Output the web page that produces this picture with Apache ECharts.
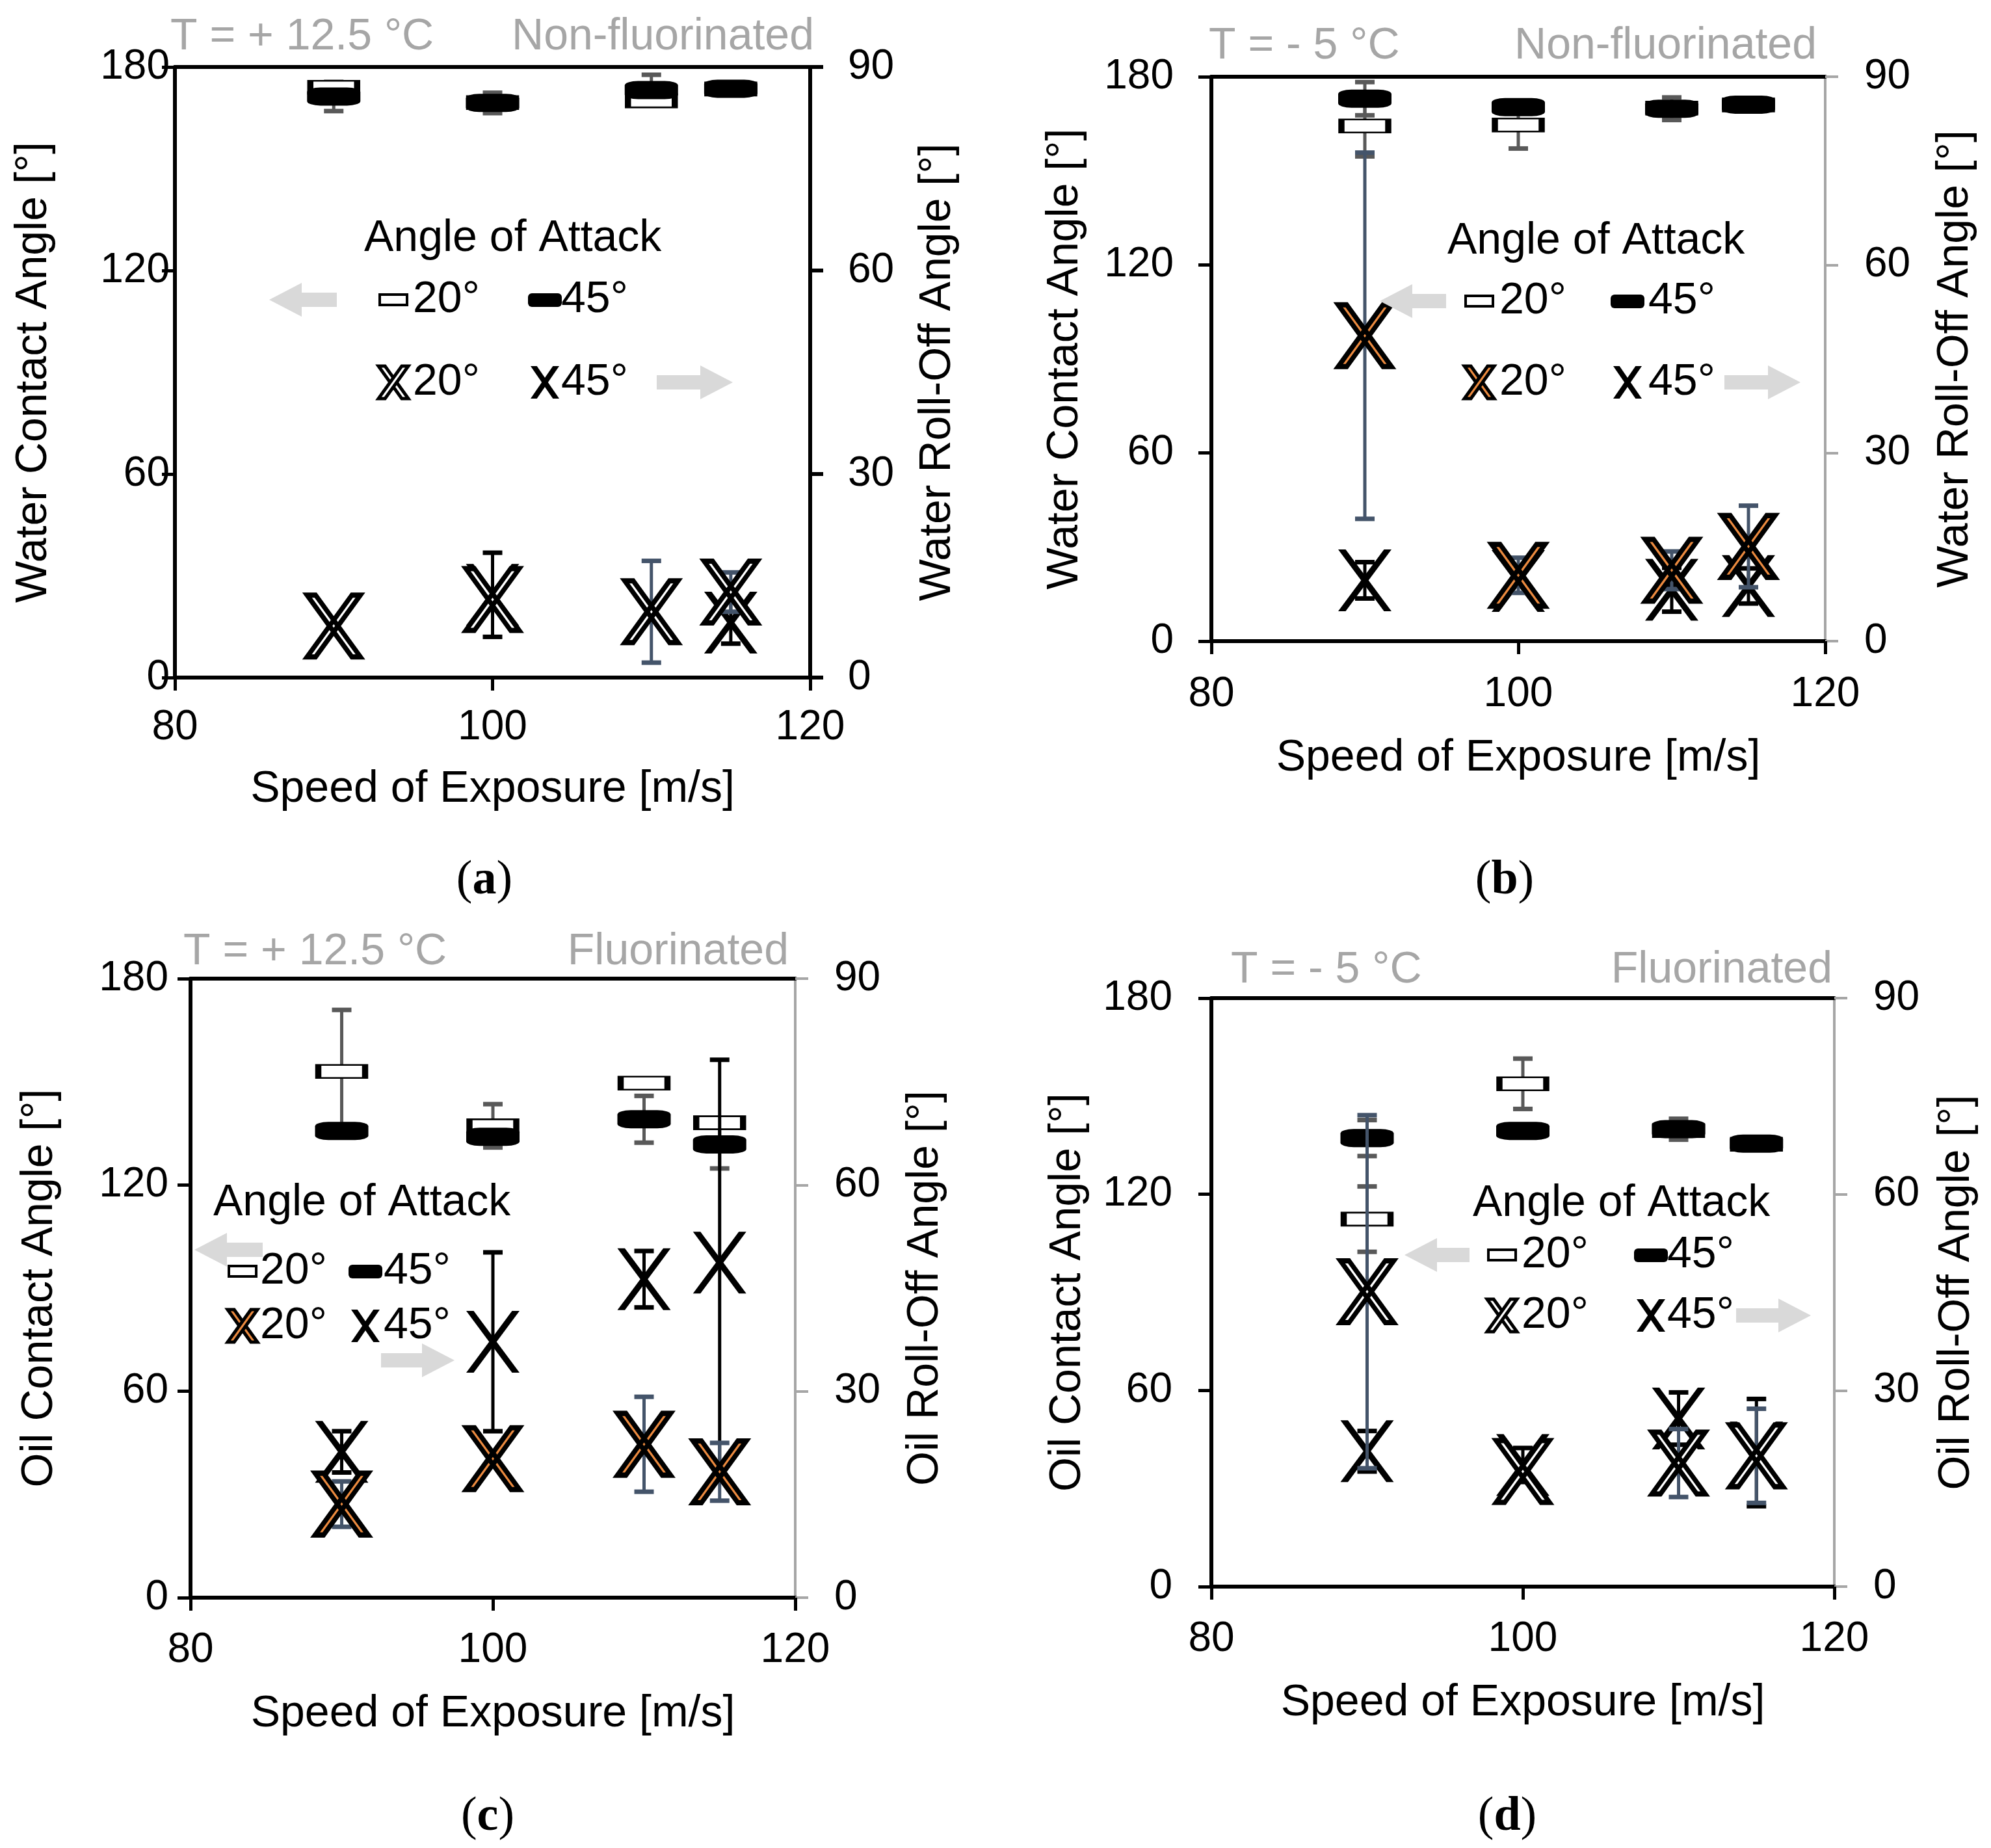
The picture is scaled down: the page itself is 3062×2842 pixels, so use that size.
<!DOCTYPE html>
<html>
<head>
<meta charset="utf-8">
<script src="https://cdn.jsdelivr.net/npm/echarts@6/dist/echarts.min.js"></script>
<style>
html,body{margin:0;padding:0;background:#fff;}
#chart{width:3062px;height:2842px;}
</style>
</head>
<body>
<div id="chart"></div>
<script>
// ---------------- DATA ----------------
const speeds = [90, 100, 110, 115];
const xTicks = [80, 100, 120];

// (a) Water, T = +12.5 °C, non-fluorinated
const aCA20 = [174.0, 169.5, 170.0, 173.5];
const aCA20Err = [0, 0, 0, 0];
const aCA45 = [171.3, 169.4, 173.2, 173.6];
const aCA45Err = [4.3, 3.0, 4.5, 0];
const aRO20 = [7.6, 11.5, 9.7, 12.6];
const aRO20Err = [0, 0, 7.5, 2.9];
const aRO45 = [7.6, 12.2, 9.4, 8.1];
const aRO45Err = [0, 6.2, 0, 3.1];

// (b) Water, T = -5 °C, non-fluorinated
const bCA20 = [164.3, 164.6, 170.0, 171.0];
const bCA20Err = [9.7, 7.5, 0, 0];
const bCA45 = [173.0, 170.3, 169.8, 171.1];
const bCA45Err = [5.3, 0, 3.6, 0];
const bRO20 = [48.7, 10.5, 11.3, 15.1];
const bRO20Err = [29.2, 2.8, 3.0, 6.5];
const bRO45 = [9.7, 9.6, 8.2, 8.8];
const bRO45Err = [2.9, 0, 3.5, 2.8];

// (c) Oil, T = +12.5 °C, fluorinated
const cCA20 = [153.0, 137.2, 149.6, 138.1];
const cCA20Err = [17.9, 6.3, 0, 0];
const cCA45 = [135.7, 134.0, 139.1, 131.8];
const cCA45Err = [0, 0, 6.8, 7.0];
const cRO20 = [13.6, 20.2, 22.3, 18.3];
const cRO20Err = [3.3, 0, 6.9, 4.2];
const cRO45 = [21.2, 37.2, 46.3, 48.7];
const cRO45Err = [3.0, 13.0, 4.1, 29.5];

// (d) Oil, T = -5 °C, fluorinated
const dCA20 = [112.4, 153.8, 139.5, 135.3];
const dCA20Err = [10.0, 7.7, 0, 0];
const dCA45 = [137.2, 139.4, 139.9, 135.5];
const dCA45Err = [5.5, 0, 3.2, 0];
const dRO20 = [45.1, 17.6, 18.9, 20.0];
const dRO20Err = [27.0, 1.2, 5.2, 7.2];
const dRO45 = [20.7, 18.6, 25.7, 20.5];
const dRO45Err = [3.1, 2.6, 4.0, 8.2];

const headersLeft = ['T = + 12.5 °C', 'T = - 5 °C', 'T = + 12.5 °C', 'T = - 5 °C'];
const headersRight = ['Non-fluorinated', 'Non-fluorinated', 'Fluorinated', 'Fluorinated'];
const captions = ['a', 'b', 'c', 'd'];
const yNamesLeft = ['Water Contact Angle [°]', 'Water Contact Angle [°]', 'Oil Contact Angle [°]', 'Oil Contact Angle [°]'];
const yNamesRight = ['Water Roll-Off Angle [°]', 'Water Roll-Off Angle [°]', 'Oil Roll-Off Angle [°]', 'Oil Roll-Off Angle [°]'];
const xName = 'Speed of Exposure [m/s]';
const legendTitle = 'Angle of Attack';
const legendLabels = ['20°', '45°'];

// ---------------- STYLE / LAYOUT ----------------
const FONT = '"Liberation Sans", Arial, sans-serif';
const SERIF = '"Liberation Serif", "Times New Roman", serif';
const ORANGE = '#EB8A3F';
const SLATE = '#44546A';
const GREYBAR = '#595959';
const GREYTXT = '#A6A6A6';
const ARROW = '#D9D9D9';
const XS = 'M0 0L14 0L100 100L86 100Z M86 0L100 0L14 100L0 100Z';
const XD = 'M0 0L16 0L100 100L84 100Z M84 0L100 0L16 100L0 100Z';

const layout = [
  {left:269, top:103, width:977, height:939, rc:'#000', rw:6, ml:8, mr:58, mx:45, gx:138, gl:183, gr:162, fill:'#fff',
   hl:[262,57], hr:[1252,57], cap:[745,1355],
   lg:{t:[560,367], r1:461, r2:588, c1:605, t1:635, c2:838, t2:863, la:[414,518,461], ra:[1010,1127,588]}},
  {left:1863, top:118, width:944, height:868, rc:GREYTXT, rw:4, ml:58, mr:60, mx:50, gx:146, gl:191, gr:166, fill:ORANGE,
   hl:[1859,71], hr:[2794,71], cap:[2314,1355],
   lg:{t:[2226,371], r1:463, r2:588, c1:2275, t1:2306, c2:2503, t2:2535, la:[2122,2224,463], ra:[2652,2769,588]}},
  {left:293, top:1505, width:930, height:952, rc:GREYTXT, rw:4, ml:34, mr:60, mx:49, gx:145, gl:198, gr:166, fill:ORANGE,
   hl:[282,1464], hr:[1213,1464], cap:[750,2795],
   lg:{t:[328,1850], r1:1955, r2:2039, c1:373, t1:400, c2:562, t2:590, la:[299,404,1922], ra:[586,699,2092]}},
  {left:1863, top:1535, width:958, height:905, rc:GREYTXT, rw:4, ml:60, mr:60, mx:49, gx:145, gl:187, gr:154, fill:'#fff',
   hl:[1893,1492], hr:[2818,1492], cap:[2318,2795],
   lg:{t:[2265,1851], r1:1930, r2:2023, c1:2310, t1:2340, c2:2539, t2:2564, la:[2160,2260,1930], ra:[2670,2785,2023]}}
];

const panelData = [
  {ca20:aCA20, ca20e:aCA20Err, ca45:aCA45, ca45e:aCA45Err, ro20:aRO20, ro20e:aRO20Err, ro45:aRO45, ro45e:aRO45Err},
  {ca20:bCA20, ca20e:bCA20Err, ca45:bCA45, ca45e:bCA45Err, ro20:bRO20, ro20e:bRO20Err, ro45:bRO45, ro45e:bRO45Err},
  {ca20:cCA20, ca20e:cCA20Err, ca45:cCA45, ca45e:cCA45Err, ro20:cRO20, ro20e:cRO20Err, ro45:cRO45, ro45e:cRO45Err},
  {ca20:dCA20, ca20e:dCA20Err, ca45:dCA45, ca45e:dCA45Err, ro20:dRO20, ro20e:dRO20Err, ro45:dRO45, ro45e:dRO45Err}
];

function errRender(color) {
  return function (params, api) {
    const x = api.value(0), lo = api.value(1), hi = api.value(2);
    if (!(hi - lo > 0)) return null;
    const a = api.coord([x, lo]), b = api.coord([x, hi]);
    const hw = 15;
    return {type:'group', children:[
      {type:'line', shape:{x1:a[0], y1:a[1], x2:b[0], y2:b[1]}, style:{stroke:color, lineWidth:5}},
      {type:'line', shape:{x1:a[0]-hw, y1:a[1], x2:a[0]+hw, y2:a[1]}, style:{stroke:color, lineWidth:7}},
      {type:'line', shape:{x1:b[0]-hw, y1:b[1], x2:b[0]+hw, y2:b[1]}, style:{stroke:color, lineWidth:7}}
    ]};
  };
}
function errData(vals, errs) {
  return speeds.map((s, i) => [s, vals[i] - errs[i], vals[i] + errs[i]]);
}
function ptData(vals) {
  return speeds.map((s, i) => [s, vals[i]]);
}
function xBars(x0, y0, w, h, wu) {
  const sx = w / 100, sy = h / 100;
  const P = pts => pts.map(p => [x0 + p[0] * sx, y0 + p[1] * sy]);
  return [P([[0,0],[wu,0],[100,100],[100-wu,100]]), P([[100-wu,0],[100,0],[wu,100],[0,100]])];
}

const grid = [], xAxis = [], yAxis = [], series = [], graphic = [];

layout.forEach((L, p) => {
  grid.push({left:L.left, top:L.top, width:L.width, height:L.height, containLabel:false, outerBoundsMode:'none'});
  xAxis.push({
    gridIndex:p, type:'value', min:80, max:120, interval:20, position:'bottom',
    axisLine:{show:true, onZero:false, lineStyle:{color:'#000', width:6}},
    axisTick:{show:true, inside:false, length:20, lineStyle:{color:'#000', width:5}},
    axisLabel:{fontSize:64, color:'#000', fontFamily:FONT, margin:L.mx,
      formatter: v => xTicks.includes(v) ? String(v) : ''},
    splitLine:{show:false},
    name:xName, nameLocation:'middle', nameGap:L.gx,
    nameTextStyle:{fontSize:68, color:'#000', fontFamily:FONT}
  });
  xAxis.push({
    gridIndex:p, type:'value', min:80, max:120, interval:20, position:'top',
    axisLine:{show:true, onZero:false, lineStyle:{color:'#000', width:6}},
    axisTick:{show:false}, axisLabel:{show:false}, splitLine:{show:false}
  });
  yAxis.push({
    gridIndex:p, type:'value', min:0, max:180, interval:60, position:'left',
    axisLine:{show:true, onZero:false, lineStyle:{color:'#000', width:6}},
    axisTick:{show:true, inside:false, length:20, lineStyle:{color:'#000', width:5}},
    axisLabel:{fontSize:64, color:'#000', fontFamily:FONT, margin:L.ml},
    splitLine:{show:false},
    name:yNamesLeft[p], nameLocation:'middle', nameGap:L.gl, nameRotate:90,
    nameTextStyle:{fontSize:68, color:'#000', fontFamily:FONT}
  });
  yAxis.push({
    gridIndex:p, type:'value', min:0, max:90, interval:30, position:'right',
    axisLine:{show:true, onZero:false, lineStyle:{color:L.rc, width:L.rw}},
    axisTick:{show:true, inside:false, length:20, lineStyle:{color:L.rc, width:L.rw}},
    axisLabel:{fontSize:64, color:'#000', fontFamily:FONT, margin:L.mr},
    splitLine:{show:false},
    name:yNamesRight[p], nameLocation:'middle', nameGap:L.gr, nameRotate:90,
    nameTextStyle:{fontSize:68, color:'#000', fontFamily:FONT}
  });

  const D = panelData[p];
  const xi = p * 2, yl = p * 2, yr = p * 2 + 1;
  series.push({type:'custom', name:'CA 20° err', xAxisIndex:xi, yAxisIndex:yl, z:2, renderItem:errRender(GREYBAR),
    encode:{x:0, y:[1,2]}, data:errData(D.ca20, D.ca20e), clip:false});
  series.push({type:'custom', name:'CA 45° err', xAxisIndex:xi, yAxisIndex:yl, z:2, renderItem:errRender(GREYBAR),
    encode:{x:0, y:[1,2]}, data:errData(D.ca45, D.ca45e), clip:false});
  series.push({type:'scatter', name:'CA 20°', xAxisIndex:xi, yAxisIndex:yl, z:3, symbol:'rect', symbolSize:[72,20],
    itemStyle:{color:'#fff', borderColor:'#000', borderWidth:5, opacity:1}, data:ptData(D.ca20), clip:false});
  series.push({type:'scatter', name:'CA 45°', xAxisIndex:xi, yAxisIndex:yl, z:4, symbol:'roundRect', symbolSize:[82,28],
    itemStyle:{color:'#000', opacity:1}, data:ptData(D.ca45), clip:false});
  series.push({type:'custom', name:'RO 45° err', xAxisIndex:xi, yAxisIndex:yr, z:5, renderItem:errRender('#000'),
    encode:{x:0, y:[1,2]}, data:errData(D.ro45, D.ro45e), clip:false});
  series.push({type:'scatter', name:'RO 45°', xAxisIndex:xi, yAxisIndex:yr, z:6, symbol:'path://' + XS, symbolSize:[82,95],
    itemStyle:{color:'#000', opacity:1}, data:ptData(D.ro45), clip:false});
  series.push({type:'custom', name:'RO 20° err', xAxisIndex:xi, yAxisIndex:yr, z:7, renderItem:errRender(SLATE),
    encode:{x:0, y:[1,2]}, data:errData(D.ro20, D.ro20e), clip:false});
  series.push({type:'scatter', name:'RO 20°', xAxisIndex:xi, yAxisIndex:yr, z:8, symbol:'path://' + XD, symbolSize:[82,95],
    itemStyle:{color:L.fill, borderColor:'#000', borderWidth:7.5, opacity:1}, data:ptData(D.ro20), clip:false});

  graphic.push({type:'text', z:20, style:{text:headersLeft[p], x:L.hl[0], y:L.hl[1], fontSize:68, fontFamily:FONT, fill:GREYTXT, align:'left', verticalAlign:'middle'}});
  graphic.push({type:'text', z:20, style:{text:headersRight[p], x:L.hr[0], y:L.hr[1], fontSize:68, fontFamily:FONT, fill:GREYTXT, align:'right', verticalAlign:'middle'}});
  graphic.push({type:'text', z:20, style:{text:'({b|' + captions[p] + '})', x:L.cap[0], y:L.cap[1], fontSize:74, fontFamily:SERIF, fontWeight:'normal', fill:'#000', align:'center', verticalAlign:'middle',
    rich:{b:{fontSize:74, fontFamily:SERIF, fontWeight:'bold', fill:'#000'}}}});

  const g = L.lg;
  graphic.push({type:'text', z:20, style:{text:legendTitle, x:g.t[0], y:g.t[1], fontSize:68, fontFamily:FONT, fill:'#000', align:'left', verticalAlign:'middle'}});
  graphic.push({type:'rect', z:20, shape:{x:g.c1-21, y:g.r1-8, width:42, height:16}, style:{fill:'#fff', stroke:'#000', lineWidth:4}});
  graphic.push({type:'rect', z:20, shape:{x:g.c2-26, y:g.r1-10, width:52, height:21, r:6}, style:{fill:'#000'}});
  xBars(g.c2-22, g.r2-25, 44, 50, 22).forEach(pts => {
    graphic.push({type:'polygon', z:20, shape:{points:pts}, style:{fill:'#000'}});
  });
  xBars(g.c1-23, g.r2-25, 46, 50, 22).forEach(pts => {
    graphic.push({type:'polygon', z:20, shape:{points:pts}, style:{fill:L.fill, stroke:'#000', lineWidth:5}});
  });
  [[g.t1, g.r1, 0], [g.t2, g.r1, 1], [g.t1, g.r2, 0], [g.t2, g.r2, 1]].forEach(t => {
    graphic.push({type:'text', z:20, style:{text:legendLabels[t[2]], x:t[0], y:t[1], fontSize:68, fontFamily:FONT, fill:'#000', align:'left', verticalAlign:'middle'}});
  });
  const hl = 50, hh = 26, sh = 11;
  const la = g.la, ra = g.ra;
  graphic.push({type:'polygon', z:19, shape:{points:[
    [la[0], la[2]], [la[0]+hl, la[2]-hh], [la[0]+hl, la[2]-sh], [la[1], la[2]-sh],
    [la[1], la[2]+sh], [la[0]+hl, la[2]+sh], [la[0]+hl, la[2]+hh]]}, style:{fill:ARROW}});
  graphic.push({type:'polygon', z:19, shape:{points:[
    [ra[1], ra[2]], [ra[1]-hl, ra[2]-hh], [ra[1]-hl, ra[2]-sh], [ra[0], ra[2]-sh],
    [ra[0], ra[2]+sh], [ra[1]-hl, ra[2]+sh], [ra[1]-hl, ra[2]+hh]]}, style:{fill:ARROW}});
});

const chart = echarts.init(document.getElementById('chart'), null, {renderer:'canvas'});
chart.setOption({
  animation:false,
  backgroundColor:'#fff',
  textStyle:{fontFamily:FONT},
  grid, xAxis, yAxis, series, graphic
});
</script>
</body>
</html>
